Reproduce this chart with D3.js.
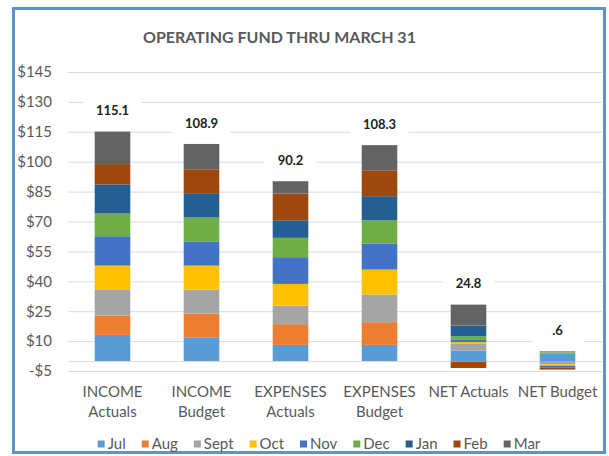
<!DOCTYPE html>
<html>
<head>
<meta charset="utf-8">
<script src="https://cdn.jsdelivr.net/npm/d3@7"></script>
<style>
  body { margin: 0; background: #fff; }
  svg { display: block; }
  text { font-family: Lato, "Open Sans", sans-serif; }
</style>
</head>
<body>
<div id="chart"></div>
<script>
// categories (one array of lines per column)
const categories = [
  ["INCOME", "Actuals"], ["INCOME", "Budget"],
  ["EXPENSES", "Actuals"], ["EXPENSES", "Budget"],
  ["NET Actuals"], ["NET Budget"]
];
const months = ["Jul", "Aug", "Sept", "Oct", "Nov", "Dec", "Jan", "Feb", "Mar"];
const monthColors = ["#5b9bd5", "#ed7d31", "#a5a5a5", "#ffc000", "#4472c4",
                     "#70ad47", "#255e91", "#9e480e", "#636363"];

// values per month, in category order (millions)
const jul  = [13.1, 11.9,  8.1,  8.1,  5.2,  3.6];
const aug  = [ 9.7, 11.9, 10.4, 11.4, -0.5,  0.6];
const sept = [13.2, 12.1,  9.3, 13.9,  3.4, -1.6];
const oct  = [11.9, 12.0, 10.9, 12.5,  0.9, -0.7];
const nov  = [14.7, 12.1, 13.4, 12.9,  1.4, -0.9];
const dec  = [11.4, 12.0,  9.7, 11.8,  1.6,  0.3];
const jan  = [14.6, 12.2,  8.8, 12.1,  5.3,  0.2];
const feb  = [10.2, 12.0, 13.4, 13.0, -3.0, -1.1];
const mar  = [16.3, 12.7,  6.2, 12.6, 10.5,  0.2];
const series = [jul, aug, sept, oct, nov, dec, jan, feb, mar];

const yTicks = [-5, 10, 25, 40, 55, 70, 85, 100, 115, 130, 145];

const width = 609, height = 456;
const textGray = "#595959";

const svg = d3.select("#chart").append("svg")
  .attr("width", width)
  .attr("height", height);

// chart frame
svg.append("rect")
  .attr("x", 13.5).attr("y", 8.5)
  .attr("width", 591).attr("height", 444)
  .attr("fill", "#fff")
  .attr("stroke", "#5f93cc")
  .attr("stroke-width", 3);

// title
svg.append("text")
  .attr("x", 143).attr("y", 43)
  .attr("font-size", "16px")
  .attr("font-weight", "bold")
  .attr("fill", textGray)
  .text("OPERATING FUND THRU MARCH 31");

const x = d3.scaleBand()
  .domain(d3.range(categories.length))
  .range([68, 602])
  .paddingInner(0.6)
  .paddingOuter(0.3);

const y = d3.scaleLinear()
  .domain([-5, 145])
  .range([371, 72]);

// gridlines
svg.append("g")
  .attr("transform", "translate(68,0)")
  .call(d3.axisLeft(y).tickValues(yTicks.concat([0])).tickSize(-534).tickFormat(""))
  .call(g => g.select(".domain").remove())
  .call(g => g.selectAll("line").attr("stroke", "#dcdcdc"));

// y tick labels
svg.append("g")
  .attr("transform", "translate(68,0)")
  .call(d3.axisLeft(y).tickValues(yTicks).tickSize(0).tickPadding(16)
    .tickFormat(d => (d < 0 ? "-$" + (-d) : "$" + d)))
  .call(g => g.select(".domain").remove())
  .call(g => g.selectAll("text")
    .attr("font-family", "Lato, sans-serif")
    .attr("font-size", "15px")
    .attr("fill", textGray));

// table for stacking
const table = categories.map((c, i) => {
  const row = { i: i };
  months.forEach((m, j) => { row[m] = series[j][i]; });
  return row;
});

const stacked = d3.stack()
  .keys(months)
  .offset(d3.stackOffsetDiverging)(table);

svg.append("g").selectAll("g")
  .data(stacked)
  .join("g")
  .attr("fill", (d, i) => monthColors[i])
  .selectAll("rect")
  .data(d => d)
  .join("rect")
  .attr("x", d => x(d.data.i))
  .attr("y", d => y(Math.max(d[0], d[1])))
  .attr("width", x.bandwidth())
  .attr("height", d => Math.abs(y(d[0]) - y(d[1])));

// total labels above each column
const fmt = v => d3.format(".1f")(v).replace(/^0\./, ".");
const totals = table.map(r => ({
  i: r.i,
  total: d3.sum(months, m => r[m]),
  top: d3.sum(months, m => Math.max(0, r[m]))
}));

const labels = svg.append("g").selectAll("g")
  .data(totals)
  .join("g")
  .attr("transform", d => `translate(${x(d.i) + x.bandwidth() / 2},${y(d.top) - 21})`);

labels.append("rect")
  .attr("fill", "#fff");

labels.append("text")
  .attr("text-anchor", "middle")
  .attr("dy", "0.36em")
  .attr("font-size", "13px")
  .attr("font-weight", "bold")
  .attr("fill", "#222")
  .text(d => fmt(d.total));

labels.each(function() {
  const g = d3.select(this);
  const tw = g.select("text").node().getComputedTextLength();
  const bw = Math.max(52, tw + 24);
  g.select("rect").attr("x", -bw / 2).attr("y", -13).attr("width", bw).attr("height", 26);
});

// category labels
const catText = svg.append("g").selectAll("text")
  .data(categories)
  .join("text")
  .attr("x", (d, i) => x(i) + x.bandwidth() / 2)
  .attr("y", 397)
  .attr("text-anchor", "middle")
  .attr("font-size", "15px")
  .attr("fill", textGray);

catText.selectAll("tspan")
  .data(d => d)
  .join("tspan")
  .attr("x", function() { return d3.select(this.parentNode).attr("x"); })
  .attr("dy", (d, i) => (i === 0 ? 0 : 20))
  .text(d => d);

// legend
const legend = svg.append("g").attr("transform", "translate(0,444)");
const items = legend.selectAll("g")
  .data(months)
  .join("g");

items.append("rect")
  .attr("y", -3.5)
  .attr("width", 7).attr("height", 7)
  .attr("fill", (d, i) => monthColors[i]);

items.append("text")
  .attr("x", 10)
  .attr("dy", "0.36em")
  .attr("font-size", "15px")
  .attr("fill", textGray)
  .text(d => d);

let lx = 0;
const offsets = [];
items.each(function() {
  offsets.push(lx);
  lx += 10 + d3.select(this).select("text").node().getComputedTextLength() + 16;
});
const legendWidth = lx - 16;
const legendStart = 319 - legendWidth / 2;
items.attr("transform", (d, i) => `translate(${legendStart + offsets[i]},0)`);
</script>
</body>
</html>
